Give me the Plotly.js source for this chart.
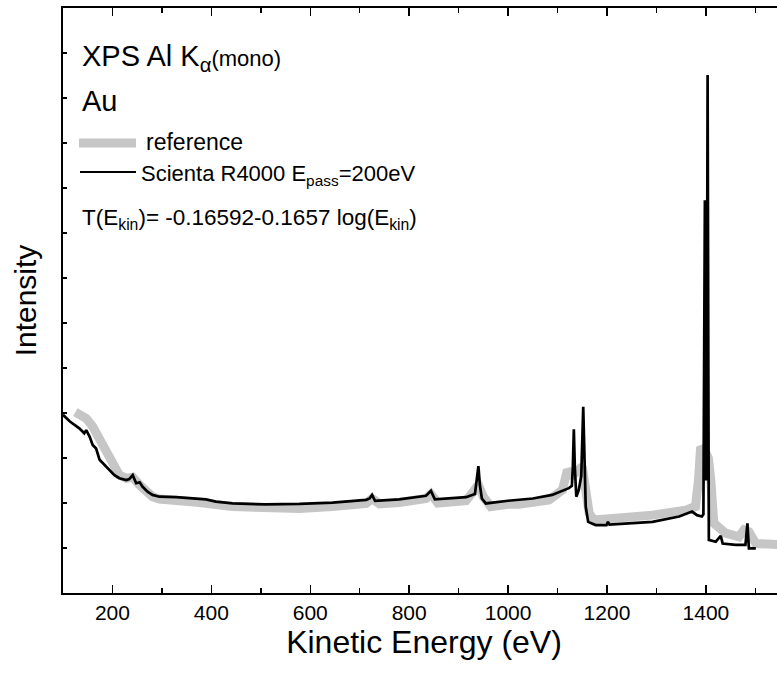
<!DOCTYPE html>
<html>
<head>
<meta charset="utf-8">
<script src="https://cdn.plot.ly/plotly-3.0.1.min.js"></script>
<style>
html,body{margin:0;padding:0;overflow:hidden;background:#fff;}
#chart{width:800px;height:674px;}
</style>
</head>
<body>
<div id="chart"></div>
<script>
// Scienta R4000 (E_pass = 200 eV) spectrum, kinetic energy (eV) and intensity (arb. units)
const scientaEnergy = [100,114,133,143,147,154,160,167,174,184,194,204,214,228,234,241,248,255,261,271,281,295,329,362,389,409,443,510,578,645,713,720,725,731,780,834,844,852,915,933,937,940,943,947,955,982,1000,1050,1089,1123,1129,1131,1133,1135,1138,1143,1148,1152,1155,1157,1162,1177,1199,1202,1205,1224,1292,1346,1372,1382,1392,1395,1397,1398,1399,1400.5,1402,1403.5,1405,1406,1420,1430,1434,1460,1480,1484,1487,1501];
const scientaIntensity = [3.96,3.81,3.66,3.55,3.62,3.47,3.29,3.21,2.96,2.84,2.73,2.62,2.55,2.51,2.53,2.62,2.44,2.46,2.36,2.25,2.18,2.14,2.13,2.10,2.08,2.03,1.99,1.97,1.98,2.01,2.07,2.10,2.18,2.05,2.08,2.16,2.27,2.08,2.13,2.20,2.50,2.82,2.40,2.10,1.99,2.03,2.05,2.10,2.18,2.33,2.38,2.80,3.64,2.80,2.14,2.29,2.60,4.14,2.60,1.92,1.58,1.51,1.51,1.58,1.52,1.53,1.58,1.70,1.81,1.73,1.70,1.75,5.00,8.73,5.00,2.50,5.00,11.51,5.00,1.18,1.14,1.27,1.10,1.07,1.07,1.55,0.99,0.99];

// Reference spectrum
const referenceEnergy = [125,131,147,160,174,187,201,214,228,241,255,268,281,295,362,376,443,510,578,645,713,725,740,780,834,844,858,915,930,940,950,965,1000,1022,1083,1110,1120,1130,1140,1150,1157,1164,1174,1224,1292,1359,1379,1385,1389,1396,1405,1410,1416,1440,1467,1477,1487,1501,1541,1560];
const referenceIntensity = [4.02,3.99,3.88,3.70,3.40,3.10,2.81,2.62,2.55,2.57,2.40,2.25,2.14,2.09,2.05,2.01,1.92,1.88,1.88,1.92,1.99,2.10,1.98,2.01,2.10,2.20,2.00,2.05,2.29,2.40,2.14,1.92,1.97,1.97,2.07,2.29,2.73,2.62,2.70,2.81,2.29,1.77,1.62,1.66,1.73,1.84,1.92,2.50,3.18,3.21,3.00,2.51,1.55,1.33,1.25,1.40,1.36,1.10,1.07,1.07];

const xTickValues = [200,400,600,800,1000,1200,1400];
const xTickLabels = ["200","400","600","800","1000","1200","1400"];

const FONT = "Liberation Sans, Arial, sans-serif";

const traces = [
  {x: referenceEnergy, y: referenceIntensity, type: 'scatter', mode: 'lines',
   line: {color: '#c6c6c6', width: 9}, name: 'reference', hoverinfo: 'skip'},
  {x: scientaEnergy, y: scientaIntensity, type: 'scatter', mode: 'lines',
   line: {color: '#000000', width: 2.7}, name: 'Scienta R4000', hoverinfo: 'skip'}
];

const W = 722, H = 585; // plot area size in px
function px(x){ return (x - 63) / W; }
function py(y){ return (593 - y) / H; }

const layout = {
  width: 800, height: 674,
  margin: {l: 63, r: 15, t: 8, b: 81},
  paper_bgcolor: '#ffffff', plot_bgcolor: '#ffffff',
  showlegend: false,
  font: {family: FONT, color: '#000'},
  xaxis: {
    range: [100, 1560], tickmode: 'array', tickvals: xTickValues, ticktext: xTickLabels,
    ticks: 'inside', ticklen: 8, tickwidth: 1.5, tickcolor: '#000',
    minor: {dtick: 100, ticks: 'inside', ticklen: 5, tickwidth: 1.5, tickcolor: '#000'},
    showline: true, linewidth: 2, linecolor: '#000', mirror: 'ticks',
    showgrid: false, zeroline: false,
    tickfont: {family: FONT, size: 21, color: '#000'},
    title: {text: 'Kinetic Energy (eV)', font: {family: FONT, size: 32, color: '#000'}, standoff: 4}
  },
  yaxis: {
    range: [0, 13], dtick: 1, showticklabels: false,
    ticks: 'inside', ticklen: 4, tickwidth: 1.5, tickcolor: '#000',
    showline: true, linewidth: 2, linecolor: '#000', mirror: 'ticks',
    showgrid: false, zeroline: false,
    title: {text: 'Intensity', font: {family: FONT, size: 30, color: '#000'}, standoff: 16}
  },
  shapes: [
    {type: 'line', xref: 'paper', yref: 'paper', x0: px(79), x1: px(136), y0: py(143), y1: py(143),
     line: {color: '#c6c6c6', width: 9}},
    {type: 'line', xref: 'paper', yref: 'paper', x0: px(80), x1: px(136), y0: py(172), y1: py(172),
     line: {color: '#000', width: 2}}
  ],
  annotations: [
    {xref: 'paper', yref: 'paper', x: px(80), y: py(58), xanchor: 'left', yanchor: 'middle', showarrow: false,
     text: "XPS Al K<sub>α</sub><span style='font-size:22px'>(mono)</span>", font: {family: FONT, size: 29, color: '#000'}},
    {xref: 'paper', yref: 'paper', x: px(80), y: py(101), xanchor: 'left', yanchor: 'middle', showarrow: false,
     text: "Au", font: {family: FONT, size: 29, color: '#000'}},
    {xref: 'paper', yref: 'paper', x: px(144), y: py(142), xanchor: 'left', yanchor: 'middle', showarrow: false,
     text: "reference", font: {family: FONT, size: 23, color: '#000'}},
    {xref: 'paper', yref: 'paper', x: px(139), y: py(175), xanchor: 'left', yanchor: 'middle', showarrow: false,
     text: "Scienta R4000 E<sub>pass</sub>=200eV", font: {family: FONT, size: 22, color: '#000'}},
    {xref: 'paper', yref: 'paper', x: px(80), y: py(219), xanchor: 'left', yanchor: 'middle', showarrow: false,
     text: "T(E<sub>kin</sub>)= -0.16592-0.1657 log(E<sub>kin</sub>)", font: {family: FONT, size: 22.5, color: '#000'}}
  ]
};

Plotly.newPlot('chart', traces, layout, {displayModeBar: false, staticPlot: true});
</script>
</body>
</html>
